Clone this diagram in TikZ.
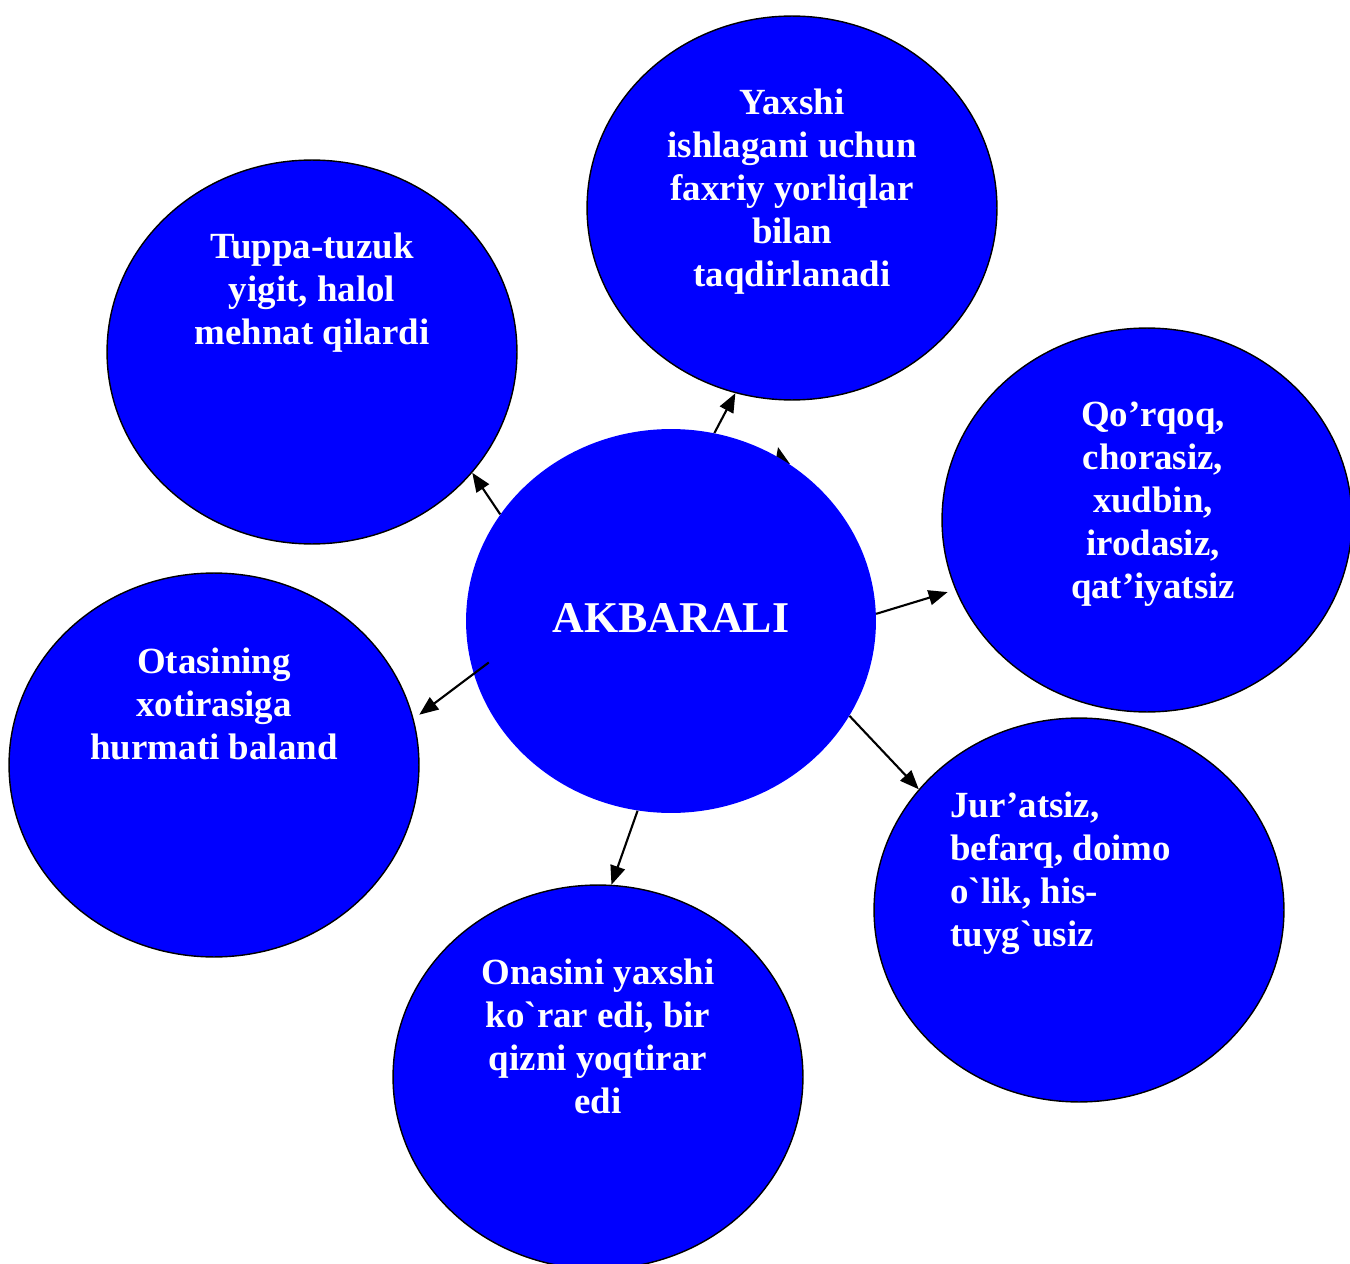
\documentclass[tikz,border=0pt]{standalone}
\usepackage{fontspec}
\newfontfamily\uzfont{Liberation Serif}
\usetikzlibrary{shapes.geometric,arrows.meta}

\begin{document}
\begin{tikzpicture}[x=0.02cm,y=-0.02cm,
		bubble/.style={ellipse,draw=black,line width=0.8pt,fill=blue,minimum width=8.2cm,minimum height=7.68cm,inner sep=0pt},
		hub/.style={ellipse,fill=blue,minimum width=8.2cm,minimum height=7.68cm,inner sep=0pt},
		txt/.style={text=white,font=\uzfont\bfseries\fontsize{21}{24.4}\selectfont,align=center,inner sep=0pt,anchor=base},
		arr/.style={-{Triangle[length=0.38cm,width=0.3cm]},line width=1.2pt}]
		\useasboundingbox (0,0) rectangle (1350,1264);
		% outer circles
		\node[bubble] (c1) at (312,352) {};
		\node[bubble] (c2) at (792,208) {};
		\node[bubble] (c3) at (1147,520) {};
		\node[bubble] (c4) at (1079,910) {};
		\node[bubble] (c5) at (598,1077) {};
		\node[bubble] (c6) at (214,765) {};
		% arrow mostly under the middle circle
		\coordinate (h0) at (786,482);
		\coordinate (h1) at (778,447);
		\draw[arr] (h0) -- (h1);
		\node[hub] (c0) at (671,621) {};
		% texts (placed at the baseline of their last line)
		\node[txt] (t0) at (671,632) {\fontsize{25}{30}\selectfont AKBARALI};
		\node[txt] (t1) at (312,344) {Tuppa-tuzuk\\yigit, halol\\mehnat qilardi};
		\node[txt] (t2) at (792,286) {Yaxshi\\ishlagani uchun\\faxriy yorliqlar\\bilan\\taqdirlanadi};
		\node[txt] (t3) at (1153,598) {Qo’rqoq,\\chorasiz,\\xudbin,\\irodasiz,\\qat’iyatsiz};
		\node[txt,align=left,anchor=base west] (t4) at (950,946) {Jur’atsiz,\\befarq, doimo\\o`lik, his-\\tuyg`usiz};
		\node[txt] (t5) at (598,1113) {Onasini yaxshi\\ko`rar edi, bir\\qizni yoqtirar\\edi};
		\node[txt] (t6) at (214,759) {Otasining\\xotirasiga\\hurmati baland};
		% arrows
		\draw[arr] (c0.148) -- (c1.323);
		\draw[arr] (c0.77) -- (c2.253);
		\draw[arr,shorten >=0.16cm] (c0.2) -- (c3.200);
		\draw[arr] (c0.332) -- (c4.143);
		\draw[arr] (c0.260) -- (c5.86);
		\draw[arr,shorten <=-0.38cm,shorten >=0.14cm] (c0.195) -- (c6.13);
	\end{tikzpicture}
\end{document}
